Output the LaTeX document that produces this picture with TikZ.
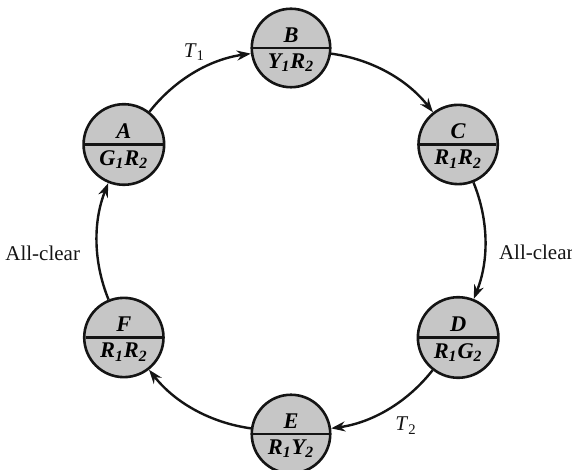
\documentclass[tikz,border=0pt]{standalone}
\usepackage{fontspec}
\setmainfont{Liberation Serif}
\usetikzlibrary{arrows.meta,shapes.multipart}
\definecolor{ink}{HTML}{141414}
\definecolor{disc}{HTML}{C6C6C6}

\tikzset{
  light/.style={circle split,draw=ink,fill=disc,line width=1.3pt,minimum size=37.5pt,inner sep=2.2pt,
    font=\fontsize{11.2}{12}\selectfont\bfseries\itshape},
  trans/.style={-{Stealth[length=7pt,width=5pt]},ink,line width=1.2pt,bend left=22,looseness=.9}
}
\newcommand{\lt}[4]{#1\textsubscript{#2}#3\textsubscript{#4}}

\begin{document}
\begin{tikzpicture}[x=0.5pt,y=0.5pt,font=\fontsize{10.5}{12}\selectfont]
  \path[use as bounding box] (0,0) rectangle (572,470);
  \coordinate (ring) at (291,229);
  % six states of the two lights, clockwise from the top
  \foreach \name/\ang/\low in {B/90/{\lt Y1R2},C/30/{\lt R1R2},D/-30/{\lt R1G2},
                               E/-90/{\lt R1Y2},F/210/{\lt R1R2},A/150/{\lt G1R2}}{
    \node[light] (\name) at ([shift={(\ang:193)}]ring) {\name\nodepart{lower}\low};
  }
  % transitions
  \draw[trans] (A) to node[above=2pt] {\textit{T}\textsubscript{1}} (B);
  \draw[trans] (B) to (C);
  \draw[trans] (C) to node[right=3pt,yshift=-6pt] {All-clear} (D);
  \draw[trans] (D) to node[below right] {\textit{T}\textsubscript{2}} (E);
  \draw[trans] (E) to (F);
  \draw[trans] (F) to node[left=4.5pt,yshift=-6pt] {All-clear} (A);
\end{tikzpicture}
\end{document}
